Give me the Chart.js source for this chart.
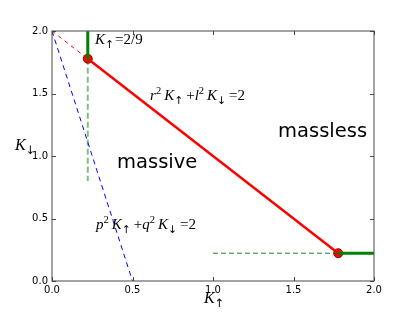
<!DOCTYPE html>
<html>
<head>
<meta charset="utf-8">
<script src="https://cdn.jsdelivr.net/npm/chart.js@4.4.1/dist/chart.umd.min.js"></script>
<style>
  body { margin: 0; background: #fff; }
  #wrap { width: 415px; height: 313px; }
</style>
</head>
<body>
<div id="wrap"><canvas id="graph" width="415" height="313"></canvas></div>
<script>
// valores
const tickValues = [0, 0.5, 1.0, 1.5, 2.0];

// recta r^2 K_up + l^2 K_down = 2 (tramo solido)
const massLineX = [0.2222, 1.7778];
const massLineY = [1.7778, 0.2222];

// prolongacion punteada roja
const redDashX = [0, 0.2222];
const redDashY = [2.0, 1.7778];

// recta p^2 K_up + q^2 K_down = 2
const blueDashX = [0, 0.5];
const blueDashY = [2.0, 0];

// K_up = 2/9
const greenTopX = [0.2222, 0.2222];
const greenTopY = [1.7778, 2.0];
const greenDownX = [0.2222, 0.2222];
const greenDownY = [1.7778, 0.8];

// K_down = 2/9
const greenRightX = [1.7778, 2.0];
const greenRightY = [0.2222, 0.2222];
const greenLeftX = [1.0, 1.7778];
const greenLeftY = [0.2222, 0.2222];

// puntos de interseccion
const cornerX = [0.2222, 1.7778];
const cornerY = [1.7778, 0.2222];

function pts(xs, ys) {
  return xs.map((x, i) => ({ x: x, y: ys[i] }));
}

function line(xs, ys, color, width, dash) {
  return {
    data: pts(xs, ys),
    showLine: true,
    borderColor: color,
    borderWidth: width,
    borderDash: dash || [],
    pointRadius: 0,
    fill: false
  };
}

const serif = '"Liberation Serif", "DejaVu Serif", serif';

// texto tipo mathtext: segmentos con estilo
function drawMath(ctx, parts, x, y, size) {
  let cx = x;
  parts.forEach(p => {
    let s = size, dy = 0, style = '', fam = serif;
    if (p.i) style = 'italic ';
    if (p.sup) { s = size * 0.7; dy = -size * 0.38; }
    if (p.sub) { s = size * 0.72; dy = size * 0.25; fam = '"DejaVu Sans"'; }
    ctx.font = style + s + 'px ' + fam;
    ctx.fillText(p.t, cx, y + dy);
    cx += ctx.measureText(p.t).width + (p.gap || 0);
  });
}

const eqTop = [{ t: 'K', i: 1 }, { t: '\u2191', sub: 1, gap: 1 }, { t: '=2/9' }];
const eqRed = [{ t: 'r', i: 1 }, { t: '2', sup: 1, gap: 3 }, { t: 'K', i: 1 }, { t: '\u2191', sub: 1, gap: 3 },
  { t: '+' }, { t: 'l', i: 1 }, { t: '2', sup: 1, gap: 3 }, { t: 'K', i: 1 }, { t: '\u2193', sub: 1, gap: 3 }, { t: '=2' }];
const eqBlue = [{ t: 'p', i: 1 }, { t: '2', sup: 1, gap: 3 }, { t: 'K', i: 1 }, { t: '\u2191', sub: 1, gap: 3 },
  { t: '+' }, { t: 'q', i: 1 }, { t: '2', sup: 1, gap: 3 }, { t: 'K', i: 1 }, { t: '\u2193', sub: 1, gap: 3 }, { t: '=2' }];

const annotations = [
  { parts: eqTop, x: 0.267, y: 1.896, size: 15 },
  { parts: eqRed, x: 0.609, y: 1.448, size: 15 },
  { parts: eqBlue, x: 0.273, y: 0.416, size: 15 }
];
const words = [
  { t: 'massive', x: 0.404, y: 0.904 },
  { t: 'massless', x: 1.404, y: 1.152 }
];

const framePlugin = {
  id: 'frame',
  afterDatasetsDraw(chart) {
    const ctx = chart.ctx;
    const a = chart.chartArea;
    const xs = chart.scales.x, ys = chart.scales.y;
    ctx.save();
    ctx.strokeStyle = '#666';
    ctx.lineWidth = 1.2;
    ctx.strokeRect(a.left, a.top, a.right - a.left, a.bottom - a.top);
    // marcas hacia adentro en los cuatro lados
    ctx.lineWidth = 1;
    ctx.strokeStyle = '#444';
    tickValues.forEach(v => {
      const px = Math.round(xs.getPixelForValue(v)) + 0.5;
      const py = Math.round(ys.getPixelForValue(v)) + 0.5;
      ctx.beginPath();
      ctx.moveTo(px, a.bottom); ctx.lineTo(px, a.bottom - 4);
      ctx.moveTo(px, a.top); ctx.lineTo(px, a.top + 4);
      ctx.moveTo(a.left, py); ctx.lineTo(a.left + 4, py);
      ctx.moveTo(a.right, py); ctx.lineTo(a.right - 4, py);
      ctx.stroke();
    });
    ctx.restore();
  },
  afterDraw(chart) {
    const ctx = chart.ctx;
    const xs = chart.scales.x, ys = chart.scales.y;
    const a = chart.chartArea;
    ctx.save();
    ctx.fillStyle = '#000';
    ctx.textBaseline = 'alphabetic';
    ctx.textAlign = 'left';
    annotations.forEach(n => {
      drawMath(ctx, n.parts, xs.getPixelForValue(n.x), ys.getPixelForValue(n.y), n.size);
    });
    ctx.font = '19.5px "DejaVu Sans"';
    words.forEach(w => {
      ctx.fillText(w.t, xs.getPixelForValue(w.x), ys.getPixelForValue(w.y));
    });
    // titulos de ejes
    drawMath(ctx, [{ t: 'K', i: 1 }, { t: '\u2191', sub: 1 }], (a.left + a.right) / 2 - 9, 303, 16);
    drawMath(ctx, [{ t: 'K', i: 1 }, { t: '\u2193', sub: 1 }], 15, 150, 16);
    ctx.restore();
  }
};

const config = {
  type: 'scatter',
  data: {
    datasets: [
      line(redDashX, redDashY, 'red', 1, [4, 4]),
      line(blueDashX, blueDashY, 'blue', 1, [5, 4]),
      line(greenDownX, greenDownY, 'rgba(0,128,0,0.5)', 2, [6, 3]),
      line(greenLeftX, greenLeftY, 'rgba(0,110,0,0.85)', 1, [5, 3]),
      line(greenTopX, greenTopY, 'green', 3),
      line(greenRightX, greenRightY, 'green', 3),
      line(massLineX, massLineY, 'red', 2.5),
      {
        data: pts(cornerX, cornerY),
        pointRadius: 4.5,
        pointBackgroundColor: 'red',
        pointBorderColor: '#900',
        pointBorderWidth: 1,
        showLine: false
      }
    ]
  },
  options: {
    responsive: false,
    animation: false,
    events: [],
    layout: { padding: { left: 0, top: 31, right: 41, bottom: 0 } },
    plugins: { legend: { display: false }, tooltip: { enabled: false } },
    scales: {
      x: {
        type: 'linear', min: 0, max: 2,
        grid: { display: false, drawTicks: false }, border: { display: false },
        afterBuildTicks: s => { s.ticks = tickValues.map(v => ({ value: v })); },
        afterFit: s => { s.height = 32; },
        ticks: {
          padding: 3, color: '#000', maxRotation: 0,
          font: { family: 'DejaVu Sans', size: 10 },
          callback: v => v.toFixed(1)
        }
      },
      y: {
        type: 'linear', min: 0, max: 2,
        grid: { display: false, drawTicks: false }, border: { display: false },
        afterBuildTicks: s => { s.ticks = tickValues.map(v => ({ value: v })); },
        afterFit: s => { s.width = 52; },
        ticks: {
          padding: 4, color: '#000',
          font: { family: 'DejaVu Sans', size: 10 },
          callback: v => v.toFixed(1)
        }
      }
    }
  },
  plugins: [framePlugin]
};

const graphCanvas = document.getElementById('graph');
window.myChart = new Chart(graphCanvas, config);
</script>
</body>
</html>
